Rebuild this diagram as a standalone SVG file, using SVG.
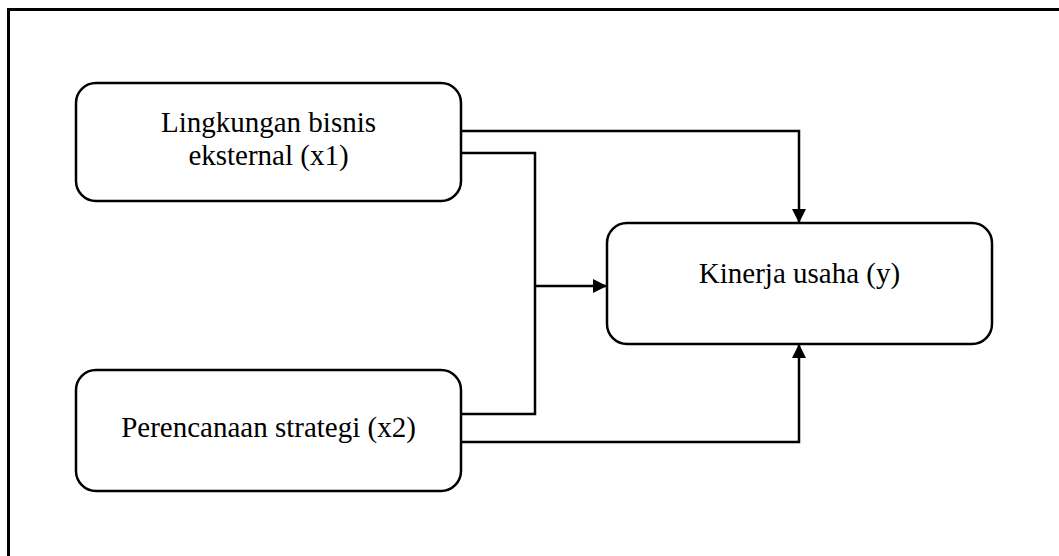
<svg xmlns="http://www.w3.org/2000/svg" width="1059" height="556" viewBox="0 0 1059 556">
  <defs>
    <style>
      .node { fill: #ffffff; stroke: #000000; stroke-width: 2.5; }
      .lbl { font-family: "Liberation Serif", "Times New Roman", serif; font-size: 29px; fill: #000000; text-anchor: middle; }
      .edge { fill: none; stroke: #000000; stroke-width: 2.5; }
      .frame { fill: none; stroke: #000000; stroke-width: 3; }
    </style>
    <marker id="arr" markerWidth="14" markerHeight="14" refX="13" refY="7" orient="auto" markerUnits="userSpaceOnUse">
      <path d="M0,0 L14,7 L0,14 Z" fill="#000000"/>
    </marker>
  </defs>
  <rect x="0" y="0" width="1059" height="556" fill="#ffffff"/>
  <path class="frame" d="M8.5,556 L8.5,9.5 L1059,9.5"/>

  <g id="connectors">
    <path class="edge" d="M461,131 L799,131 L799,222" marker-end="url(#arr)"/>
    <path class="edge" d="M461,153 L535,153 L535,414 L461,414"/>
    <path class="edge" d="M535,286 L606,286" marker-end="url(#arr)"/>
    <path class="edge" d="M461,442 L799,442 L799,345" marker-end="url(#arr)"/>
  </g>

  <g id="node-x1">
    <rect class="node" x="76" y="83" width="385" height="118" rx="20" ry="20"/>
    <text class="lbl" x="268.5" y="132">Lingkungan bisnis</text>
    <text class="lbl" x="268.5" y="165">eksternal (x1)</text>
  </g>

  <g id="node-x2">
    <rect class="node" x="76" y="370" width="385" height="121" rx="20" ry="20"/>
    <text class="lbl" x="268.5" y="437">Perencanaan strategi (x2)</text>
  </g>

  <g id="node-y">
    <rect class="node" x="607" y="223" width="385" height="121" rx="20" ry="20"/>
    <text class="lbl" x="799.5" y="283">Kinerja usaha (y)</text>
  </g>
</svg>
